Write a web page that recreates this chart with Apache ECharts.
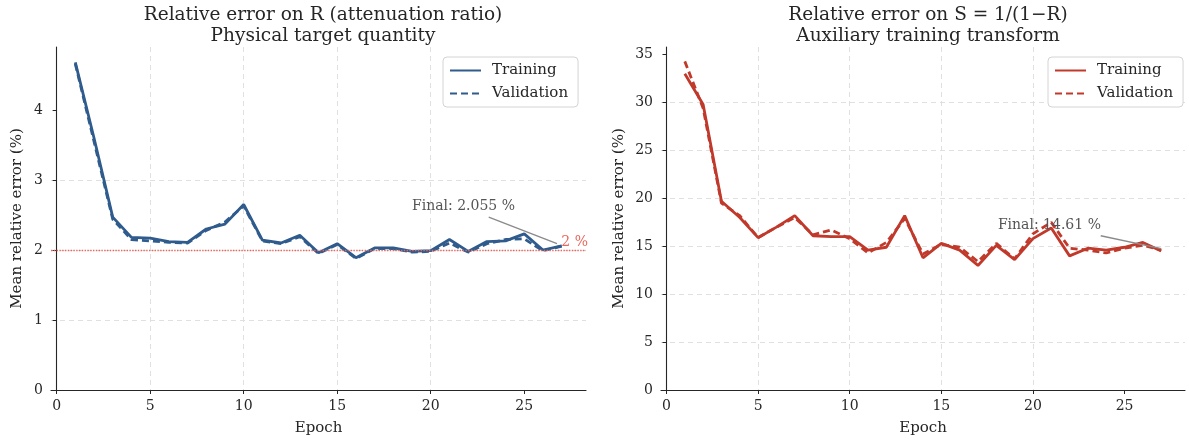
<!DOCTYPE html>
<html>
<head>
<meta charset="utf-8">
<script src="https://cdn.jsdelivr.net/npm/echarts@6/dist/echarts.min.js"></script>
<style>
  html, body { margin: 0; padding: 0; background: #ffffff; }
  #chart { width: 1189px; height: 441px; }
</style>
</head>
<body>
<div id="chart"></div>
<script>
// Epoch index shared by both panels
const epochs = [1, 2, 3, 4, 5, 6, 7, 8, 9, 10, 11, 12, 13, 14, 15, 16, 17, 18, 19, 20, 21, 22, 23, 24, 25, 26, 27];

// Relative error on R (%)
const rTrain = [4.68, 3.60, 2.47, 2.18, 2.17, 2.12, 2.11, 2.30, 2.37, 2.65, 2.14, 2.10, 2.21, 1.96, 2.09, 1.89, 2.03, 2.03, 1.98, 1.99, 2.15, 1.98, 2.12, 2.13, 2.23, 2.00, 2.06];
const rValid = [4.66, 3.55, 2.44, 2.15, 2.13, 2.11, 2.10, 2.28, 2.40, 2.63, 2.13, 2.09, 2.19, 1.95, 2.08, 1.88, 2.02, 2.02, 1.97, 1.98, 2.10, 1.97, 2.09, 2.15, 2.16, 1.99, 2.055];

// Relative error on S = 1/(1-R) (%)
const sTrain = [33.0, 29.8, 19.7, 18.0, 15.9, 17.0, 18.2, 16.1, 16.0, 16.0, 14.6, 14.9, 18.2, 13.8, 15.3, 14.6, 13.0, 15.1, 13.6, 15.8, 16.9, 14.0, 14.8, 14.6, 14.9, 15.4, 14.5];
const sValid = [34.3, 29.4, 19.5, 18.2, 15.9, 17.0, 18.0, 16.2, 16.7, 15.8, 14.3, 15.4, 17.9, 14.2, 15.2, 14.9, 13.4, 15.3, 13.7, 16.3, 17.5, 14.8, 14.6, 14.3, 14.8, 15.1, 14.61];

// Tick labels
const xTicks = [0, 5, 10, 15, 20, 25];
const rTicks = [0, 1, 2, 3, 4];
const sTicks = [0, 5, 10, 15, 20, 25, 30, 35];

// Reference level and final-value notes
const rTarget = 2;
const rFinalText = 'Final: 2.055 %';
const sFinalText = 'Final: 14.61 %';

const FONT = 'DejaVu Serif';
const BLUE = '#2f5b8d';
const RED = '#c0392b';
const INK = '#262626';

const pairs = (vals) => epochs.map((e, i) => [e, vals[i]]);

function xAxisFor(gridIndex) {
  return {
    type: 'value', gridIndex, min: -0.3, max: 28.3,
    name: 'Epoch', nameLocation: 'middle', nameGap: 31,
    nameTextStyle: { fontFamily: FONT, fontSize: 15, color: INK },
    axisLine: { show: true, onZero: false, lineStyle: { color: INK, width: 1.1 } },
    axisTick: { show: true, length: 4, customValues: xTicks, lineStyle: { color: INK } },
    axisLabel: { customValues: xTicks, fontFamily: FONT, fontSize: 14, color: INK, margin: 9 },
    splitLine: { show: true, showMinLine: false, showMaxLine: false,
      lineStyle: { color: '#dcdcdc', type: [5, 4], width: 0.9 } }
  };
}

function yAxisFor(gridIndex, max, ticks, gap) {
  return {
    type: 'value', gridIndex, min: 0, max,
    name: 'Mean relative error (%)', nameLocation: 'middle', nameGap: gap, nameRotate: 90,
    nameTextStyle: { fontFamily: FONT, fontSize: 15, color: INK },
    axisLine: { show: true, lineStyle: { color: INK, width: 1.1 } },
    axisTick: { show: true, length: 4, customValues: ticks, lineStyle: { color: INK } },
    axisLabel: { customValues: ticks, fontFamily: FONT, fontSize: 14, color: INK, margin: 8 },
    splitLine: { show: true, showMinLine: false, showMaxLine: false,
      lineStyle: { color: '#dcdcdc', type: [5, 4], width: 0.9 } }
  };
}

function lineSeries(name, xi, vals, color, dashed, extra) {
  return Object.assign({
    name, type: 'line', xAxisIndex: xi, yAxisIndex: xi,
    data: pairs(vals), symbol: 'none', smooth: false, animation: false,
    lineStyle: { color, width: 2.8, type: dashed ? [7, 4] : 'solid' },
    itemStyle: { color }
  }, extra || {});
}

// Grey arrow with a note pointing at the last epoch
function finalNote(text, textAt, from, to) {
  return {
    markPoint: {
      silent: true, symbol: 'circle', symbolSize: 0, animation: false,
      data: [{ coord: textAt, value: text }],
      label: { show: true, position: 'inside', formatter: text,
        fontFamily: FONT, fontSize: 14, color: '#555555' }
    },
    markLine: {
      silent: true, animation: false, symbol: ['none', 'arrow'], symbolSize: [0, 9],
      lineStyle: { color: '#8a8a8a', width: 1.3, type: 'solid' },
      label: { show: false },
      data: [[{ coord: from }, { coord: to }]]
    }
  };
}

const rNote = finalNote(rFinalText, [21.75, 2.63], [23.1, 2.47], [26.75, 2.09]);
const sNote = finalNote(sFinalText, [20.9, 17.2], [23.7, 16.1], [27.0, 14.75]);

// Dotted target level on R, labelled at its right end
rNote.markLine.data.push({
  yAxis: rTarget, symbol: 'none',
  lineStyle: { color: '#e8675c', width: 1.4, type: 'dotted' },
  label: { show: true, position: 'insideEndTop', formatter: rTarget + ' %',
    fontFamily: FONT, fontSize: 14, color: '#e8675c', distance: [-2, 1] }
});

const legendBase = {
  orient: 'vertical', itemWidth: 31, itemHeight: 12, itemGap: 8,
  padding: [6, 10, 6, 6], borderColor: '#d4d4d4', borderWidth: 1, borderRadius: 4,
  backgroundColor: '#ffffff',
  itemStyle: { opacity: 0, borderWidth: 0 },
  textStyle: { fontFamily: FONT, fontSize: 15, color: INK, padding: [0, 0, 0, 6] },
  formatter: (name) => name.split(' ')[1]
};

const chart = echarts.init(document.getElementById('chart'), null, { renderer: 'canvas' });
chart.setOption({
  animation: false,
  backgroundColor: '#ffffff',
  title: [
    { text: 'Relative error on R (attenuation ratio)\nPhysical target quantity',
      left: 318, top: 0, textAlign: 'center',
      textStyle: { fontFamily: FONT, fontSize: 18.5, fontWeight: 'normal', color: INK, lineHeight: 21 } },
    { text: 'Relative error on S = 1/(1\u2212R)\nAuxiliary training transform',
      left: 923, top: 0, textAlign: 'center',
      textStyle: { fontFamily: FONT, fontSize: 18.5, fontWeight: 'normal', color: INK, lineHeight: 21 } }
  ],
  legend: [
    Object.assign({ data: ['R Training', 'R Validation'], left: 443, top: 57 }, legendBase),
    Object.assign({ data: ['S Training', 'S Validation'], left: 1048, top: 57 }, legendBase)
  ],
  grid: [
    { left: 51, right: 603, top: 47, bottom: 51 },
    { left: 661, right: 4, top: 47, bottom: 51 }
  ],
  xAxis: [xAxisFor(0), xAxisFor(1)],
  yAxis: [yAxisFor(0, 4.9, rTicks, 26), yAxisFor(1, 35.8, sTicks, 34)],
  series: [
    lineSeries('R Training', 0, rTrain, BLUE, false),
    lineSeries('R Validation', 0, rValid, BLUE, true, rNote),
    lineSeries('S Training', 1, sTrain, RED, false),
    lineSeries('S Validation', 1, sValid, RED, true, sNote)
  ]
});
</script>
</body>
</html>
